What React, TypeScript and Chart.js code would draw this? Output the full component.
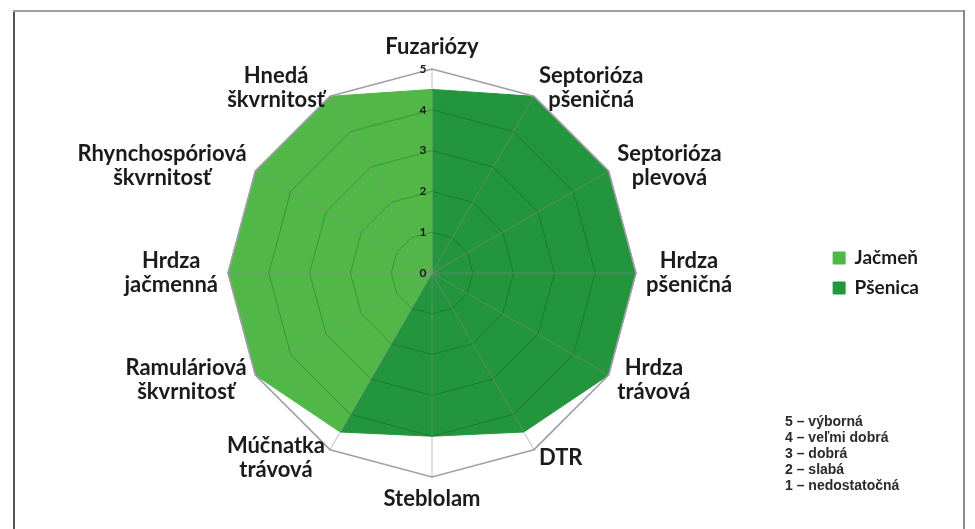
import React, { useEffect, useRef } from 'react';
import { Chart, registerables } from 'chart.js';

Chart.register(...registerables);

// ---- data ----
const categories: string[][] = [
  ['Fuzariózy'],
  ['Septorióza', 'pšeničná'],
  ['Septorióza', 'plevová'],
  ['Hrdza', 'pšeničná'],
  ['Hrdza', 'trávová'],
  ['DTR'],
  ['Steblolam'],
  ['Múčnatka', 'trávová'],
  ['Ramuláriová', 'škvrnitosť'],
  ['Hrdza', 'jačmenná'],
  ['Rhynchospóriová', 'škvrnitosť'],
  ['Hnedá', 'škvrnitosť'],
];
const seriesNames = ['Jačmeň', 'Pšenica'];
const jacmenValues = [4.5, 0, 0, 0, 0, 0, 0, 4.5, 5, 5, 5, 5];
const psenicaValues = [4.5, 5, 5, 5, 5, 4.5, 4, 4.5, 0, 0, 0, 0];
const scaleMin = 0;
const scaleMax = 5;
const scaleStep = 1;
const ratingNotes = [
  '5 – výborná',
  '4 – veľmi dobrá',
  '3 – dobrá',
  '2 – slabá',
  '1 – nedostatočná',
];

const LIGHT = '#51b847';
const DARK = '#23953c';
const TEXT = '#1b1b1b';
const LABEL_SIZE = 22;
const LABEL_LH = 24;
const LABEL_PAD = 10;

const excelLabels = {
  id: 'excelLabels',
  afterDraw(chart: any) {
    const scale = chart.scales.r;
    const ctx = chart.ctx as CanvasRenderingContext2D;
    ctx.save();
    ctx.fillStyle = TEXT;
    ctx.font = `bold ${LABEL_SIZE}px Lato`;
    ctx.textAlign = 'center';
    ctx.textBaseline = 'middle';
    const labels = chart.data.labels as (string | string[])[];
    labels.forEach((lab, i) => {
      const lines = Array.isArray(lab) ? lab : [lab];
      const p = scale.getPointPosition(i, scale.drawingArea + LABEL_PAD);
      const deg = Math.round((scale.getIndexAngle(i) * 180) / Math.PI) % 360;
      const h = lines.length * LABEL_LH;
      const maxW = Math.max(...lines.map((l) => ctx.measureText(l).width));
      let top: number;
      let cx: number;
      if (deg === 0) {
        cx = p.x;
        top = p.y - h;
      } else if (deg === 180) {
        cx = p.x;
        top = p.y;
      } else if (deg < 180) {
        cx = p.x + maxW / 2;
        top = p.y - h / 2;
      } else {
        cx = p.x - maxW / 2;
        top = p.y - h / 2;
      }
      lines.forEach((l, k) => ctx.fillText(l, cx, top + LABEL_LH * (k + 0.5)));
    });
    ctx.font = 'bold 12px Lato';
    scale.ticks.forEach((t: any) => {
      const d = scale.getDistanceFromCenterForValue(t.value);
      ctx.fillText(String(t.value), scale.xCenter - 9, scale.yCenter - d);
    });
    ctx.restore();
  },
};

export default function App() {
  const ref = useRef<HTMLCanvasElement>(null);

  useEffect(() => {
    if (!ref.current) return;
    const chart = new Chart(ref.current, {
      type: 'radar',
      data: {
        labels: categories,
        datasets: [
          {
            label: seriesNames[0],
            data: jacmenValues,
            backgroundColor: LIGHT,
            borderColor: LIGHT,
            borderWidth: 1,
            pointRadius: 0,
            fill: true,
          },
          {
            label: seriesNames[1],
            data: psenicaValues,
            backgroundColor: DARK,
            borderColor: DARK,
            borderWidth: 1,
            pointRadius: 0,
            fill: true,
          },
        ],
      },
      options: {
        responsive: false,
        animation: false,
        layout: { padding: { left: 43, right: 46, top: 35, bottom: 18 } },
        plugins: {
          legend: {
            position: 'right',
            align: 'center',
            labels: {
              color: TEXT,
              font: { family: 'Lato', weight: 'bold', size: 19 },
              boxWidth: 12,
              boxHeight: 12,
              padding: 11,
            },
          },
          tooltip: { enabled: false },
        },
        scales: {
          r: {
            min: scaleMin,
            max: scaleMax,
            ticks: { stepSize: scaleStep, display: false },
            grid: {
              z: 1,
              color: (c: any) => (c.index === 5 ? '#a39eab' : 'rgba(0,70,0,0.3)'),
              lineWidth: (c: any) => (c.index === 5 ? 1.6 : 1),
            },
            angleLines: { color: 'rgba(140,135,145,0.55)', lineWidth: 1 },
            pointLabels: {
              display: true,
              color: 'rgba(0,0,0,0)',
              padding: LABEL_PAD,
              font: { family: 'Lato', weight: 'bold', size: LABEL_SIZE, lineHeight: LABEL_LH / LABEL_SIZE },
            },
          },
        },
      } as any,
      plugins: [excelLabels],
    });
    return () => chart.destroy();
  }, []);

  return (
    <div
      style={{
        position: 'fixed',
        left: 0,
        top: 0,
        width: 975,
        height: 529,
        background: '#ffffff',
        overflow: 'hidden',
      }}
    >
      <canvas ref={ref} width={975} height={529} style={{ position: 'absolute', left: 0, top: 0 }} />
      <div style={{ position: 'absolute', left: 13, top: 10, width: 2, height: 519, background: '#555555' }} />
      <div style={{ position: 'absolute', left: 13, top: 10, width: 952, height: 2, background: '#a0a0a0' }} />
      <div style={{ position: 'absolute', left: 963, top: 10, width: 2, height: 519, background: '#8a8a8a' }} />
      <div
        style={{
          position: 'absolute',
          left: 785,
          top: 413,
          fontFamily: '"Liberation Sans", Arial, sans-serif',
          fontWeight: 'bold',
          fontSize: 14,
          lineHeight: '16px',
          color: '#2a2a2a',
          whiteSpace: 'nowrap',
        }}
      >
        {ratingNotes.map((n) => (
          <div key={n}>{n}</div>
        ))}
      </div>
    </div>
  );
}
